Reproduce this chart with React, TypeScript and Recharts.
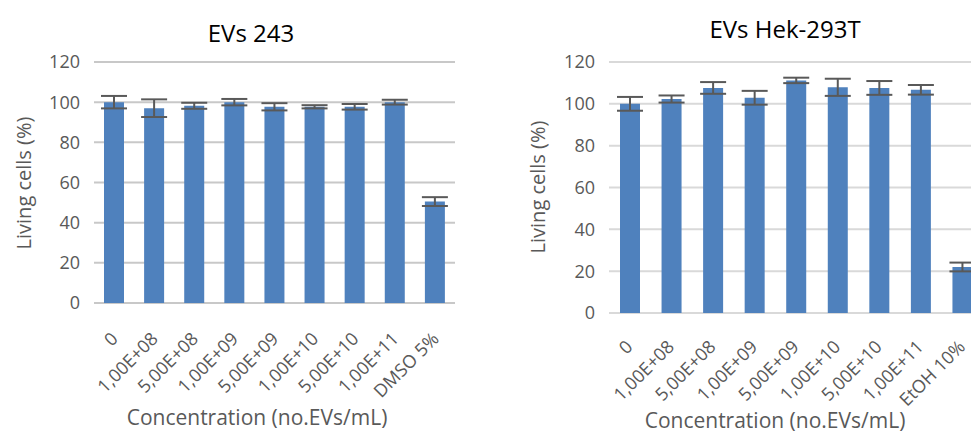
import React from "react";
import { BarChart, Bar, XAxis, YAxis, CartesianGrid, ErrorBar } from "recharts";

// Viability assay: % living cells after 24h exposure to EVs at rising doses
const CONCENTRATIONS = [
  "0",
  "1,00E+08",
  "5,00E+08",
  "1,00E+09",
  "5,00E+09",
  "1,00E+10",
  "5,00E+10",
  "1,00E+11",
];

const Y_TICKS = [0, 20, 40, 60, 80, 100, 120];

// EVs from 243 cells, DMSO as positive control
const EV243_LABELS = [...CONCENTRATIONS, "DMSO 5%"];
const EV243_MEAN = [100, 97, 98.2, 100, 97.7, 97.7, 97.7, 100, 50.5];
const EV243_SD = [3.1, 4.4, 1.5, 1.6, 1.8, 0.8, 1.4, 1.2, 2.2];

// EVs from Hek-293T cells, EtOH as positive control
const HEK_LABELS = [...CONCENTRATIONS, "EtOH 10%"];
const HEK_MEAN = [100, 102.3, 107.6, 102.9, 111.2, 107.9, 107.6, 106.7, 22.0];
const HEK_SD = [3.3, 1.7, 2.8, 3.3, 1.3, 4.1, 3.3, 2.3, 2.1];

const FONT = "'Open Sans', 'DejaVu Sans', sans-serif";
const TEXT_GREY = "#595959";
const BAR_BLUE = "#4f81bd";

const toRows = (labels: string[], mean: number[], sd: number[]) =>
  labels.map((name, i) => ({ name, value: mean[i], err: sd[i] }));

const ev243Data = toRows(EV243_LABELS, EV243_MEAN, EV243_SD);
const hekData = toRows(HEK_LABELS, HEK_MEAN, HEK_SD);

// rotated category label, anchored at its top-right end
const makeTick = (dx: number, dy: number) => (props: any) => {
  const { x, y, payload } = props;
  const tx = x + dx;
  const ty = y + dy;
  return (
    <text
      x={tx}
      y={ty}
      textAnchor="end"
      fontFamily={FONT}
      fontSize={18}
      fill={TEXT_GREY}
      transform={`rotate(-45, ${tx}, ${ty})`}
    >
      {payload.value}
    </text>
  );
};

interface PanelProps {
  data: { name: string; value: number; err: number }[];
  left: number;
  width: number;
  top: number;
  right: number;
  bottom: number;
  plotLeft: number;
  gridColor: string;
  tickDx: number;
  tickDy: number;
}

function Panel({ data, left, width, top, right, bottom, plotLeft, gridColor, tickDx, tickDy }: PanelProps) {
  return (
    <div style={{ position: "absolute", left, top: 0 }}>
      <BarChart
        width={width}
        height={433}
        data={data}
        margin={{ top, right, bottom: 0, left: plotLeft - 60 }}
        barSize={20}
      >
        <CartesianGrid vertical={false} stroke={gridColor} strokeWidth={2} />
        <XAxis
          dataKey="name"
          interval={0}
          axisLine={false}
          tickLine={false}
          tickSize={0}
          tickMargin={0}
          height={bottom}
          tick={makeTick(tickDx, tickDy)}
        />
        <YAxis
          domain={[0, 120]}
          ticks={Y_TICKS}
          interval={0}
          axisLine={false}
          tickLine={false}
          tickSize={0}
          tickMargin={14}
          width={60}
          tick={{ fontSize: 18, fill: TEXT_GREY, fontFamily: FONT }}
        />
        <Bar dataKey="value" fill={BAR_BLUE} isAnimationActive={false}>
          <ErrorBar dataKey="err" width={13} stroke="#595959" strokeWidth={2} />
        </Bar>
      </BarChart>
    </div>
  );
}

const centred = (x: number, y: number, size: number, color: string, rotate = 0): React.CSSProperties => ({
  position: "absolute",
  left: x,
  top: y,
  transform: `translate(-50%, -50%) rotate(${rotate}deg)`,
  fontFamily: FONT,
  fontSize: size,
  color,
  whiteSpace: "nowrap",
  lineHeight: 1,
});

export default function App() {
  return (
    <div
      style={{
        position: "fixed",
        left: 0,
        top: 0,
        width: 971,
        height: 433,
        overflow: "hidden",
        background: "#fff",
      }}
    >
      <Panel
        data={ev243Data}
        left={0}
        width={480}
        top={62}
        right={25}
        bottom={130}
        plotLeft={94}
        gridColor="#c8c8c8"
        tickDx={5}
        tickDy={37}
      />
      <Panel
        data={hekData}
        left={490}
        width={500}
        top={62}
        right={7}
        bottom={120}
        plotLeft={119}
        gridColor="#d9d9d9"
        tickDx={4}
        tickDy={35}
      />

      <div style={centred(251, 33, 24, "#000")}>EVs 243</div>
      <div style={centred(785, 29, 24, "#000")}>EVs Hek-293T</div>

      <div style={centred(24, 183, 20, TEXT_GREY, -90)}>Living cells (%)</div>
      <div style={centred(538, 187, 20, TEXT_GREY, -90)}>Living cells (%)</div>

      <div style={centred(257, 417, 21, TEXT_GREY)}>Concentration (no.EVs/mL)</div>
      <div style={centred(775, 420, 21, TEXT_GREY)}>Concentration (no.EVs/mL)</div>
    </div>
  );
}
